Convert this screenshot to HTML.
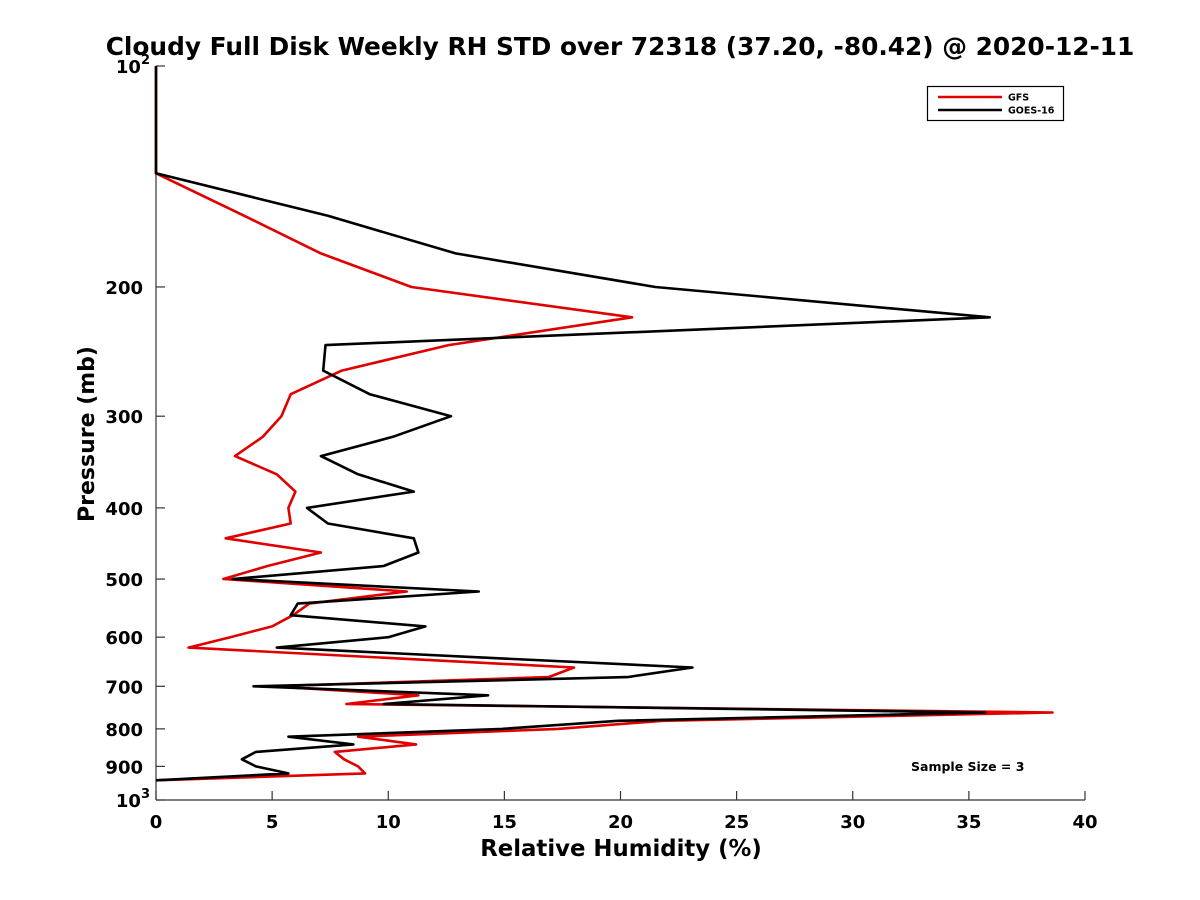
<!DOCTYPE html>
<html><head><meta charset="utf-8"><style>
html,body{margin:0;padding:0;background:#fff;}
svg{display:block;font-family:"DejaVu Sans","Liberation Sans",sans-serif;font-weight:bold;}
</style></head><body>
<svg id="chart" width="1200" height="900" viewBox="0 0 1200 900">
<text x="620" y="55" font-size="24.8" text-anchor="middle" fill="#000">Cloudy Full Disk Weekly RH STD over 72318 (37.20, -80.42) @ 2020-12-11</text>
<g id="axes"></g>
<g id="series"></g>
<text x="621" y="856" font-size="22.8" text-anchor="middle">Relative Humidity (%)</text>
<text transform="translate(94,434) rotate(-90)" font-size="22" text-anchor="middle">Pressure (mb)</text>
<g>
<rect x="927.5" y="86.5" width="136" height="34" fill="#fff" stroke="#000" stroke-width="1.2"/>
<g><line x1="938" y1="97" x2="1002" y2="97" stroke="#e00000" stroke-width="2.5"/><text x="1008" y="100.5" font-size="9.5">GFS</text></g>
<g><line x1="938" y1="110" x2="1002" y2="110" stroke="#000" stroke-width="2.5"/><text x="1008" y="113.5" font-size="9.5">GOES-16</text></g>
</g>
<text x="911" y="771" font-size="12.5">Sample Size = 3</text>
</svg>
<script>
const pressureLevels = [100,120,140,160,180,200,220,240,260,280,300,320,340,360,380,400,420,440,460,480,500,520,540,560,580,600,620,640,660,680,700,720,740,760,780,800,820,840,860,880,900,920,940];
const gfsValues = [0,0,0,3.8,7.1,11.0,20.5,12.6,8.0,5.8,5.4,4.6,3.4,5.2,6.0,5.7,5.8,3.0,7.1,4.8,2.9,10.8,6.6,5.9,5.0,3.2,1.4,9.8,18.0,16.9,5.0,11.3,8.2,38.6,21.8,17.3,8.7,11.2,7.7,8.1,8.7,9.0,0];
const goesValues = [0,0,0,7.4,12.9,21.5,35.9,7.3,7.2,9.2,12.7,10.2,7.1,8.7,11.1,6.5,7.4,11.1,11.3,9.8,3.3,13.9,6.1,5.8,11.6,10.0,5.2,14.2,23.1,20.3,4.2,14.3,9.8,35.7,19.9,14.9,5.7,8.5,4.3,3.7,4.3,5.7,0];
const xTicks = [0,5,10,15,20,25,30,35,40];
const yTickValues = [100,200,300,400,500,600,700,800,900,1000];
const yTickLabels = ["10²","200","300","400","500","600","700","800","900","10³"];

const L=156,R=1085,T=66,B=800,XMAX=40;
function xs(v){return L+(v/XMAX)*(R-L);}
function ys(p){return T+(Math.log10(p)-2)*(B-T);}
const NS="http://www.w3.org/2000/svg";
function mk(tag,attrs,parent){const e=document.createElementNS(NS,tag);for(const k in attrs)e.setAttribute(k,attrs[k]);parent.appendChild(e);return e;}
const ax=document.getElementById('axes');
let el=mk('line',{x1:L,y1:T,x2:L,y2:B,stroke:'#333',"stroke-width":1.2},ax);


el=mk('line',{x1:L,y1:B,x2:R,y2:B,stroke:'#333',"stroke-width":1.2},ax);


xTicks.forEach(v=>{
  const x=xs(v);
  const t=mk('line',{x1:x,y1:B,x2:x,y2:B-9,stroke:'#333',"stroke-width":1.2},ax);
  
  
  const tx=mk('text',{x:x,y:B+28,"font-size":18,"text-anchor":"middle"},ax);
  tx.textContent=String(v);
  
  
});
yTickValues.forEach((p,i)=>{
  const y=ys(p);
  const t=mk('line',{x1:L,y1:y,x2:L+9,y2:y,stroke:'#333',"stroke-width":1.2},ax);
  
  
  const lab=yTickLabels[i];
  const tx=mk('text',{x:L-13,y:y+7,"font-size":18,"text-anchor":"end"},ax);
  if(lab==="10²"||lab==="10³"){
    tx.textContent="10";
    const s=mk('tspan',{dy:-9,"font-size":13},tx);
    s.textContent=lab==="10²"?"2":"3";
    tx.setAttribute('x',L-6);
  } else tx.textContent=lab;
  
  
});
const sg=document.getElementById('series');
function line(vals,color,name){
  const pts=vals.map((v,i)=>xs(v).toFixed(1)+","+ys(pressureLevels[i]).toFixed(1)).join(" ");
  const pl=mk('polyline',{points:pts,fill:'none',stroke:color,"stroke-width":2.6,"stroke-linejoin":"round"},sg);
  
  
}
line(gfsValues,'#e00000','gfs-line');
line(goesValues,'#000','goes16-line');
</script>
</body></html>
